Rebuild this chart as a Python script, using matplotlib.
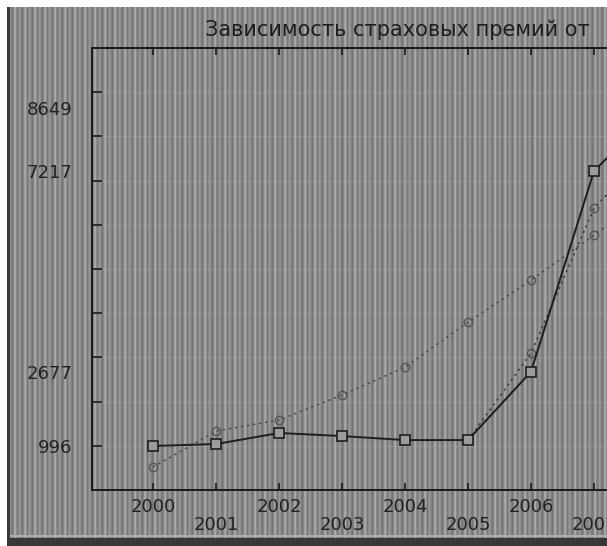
import numpy as np
import matplotlib
matplotlib.use('Agg')
import matplotlib.pyplot as plt

years = [2000, 2001, 2002, 2003, 2004, 2005, 2006, 2007, 2008]
premii = [996, 1040, 1290, 1220, 1130, 1130, 2677, 7217, 8649]
trend_lin = [520, 1333, 1582, 2147, 2780, 3797, 4746, 5763, 6800]
years_exp = [2005, 2006, 2007, 2008]
trend_exp = [1130, 3096, 6373, 7900]
ytick_vals = [996, 2677, 7217, 8649]
title = 'Зависимость страховых премий от'

W, H = 607, 546
fig = plt.figure(figsize=(W / 100, H / 100), dpi=100)

# striped grey background with the window borders
stripe = np.array([0.56, 0.50, 0.46, 0.52, 0.63, 0.67, 0.55, 0.48, 0.53, 0.60])
cols = np.resize(stripe, W)
bg = np.tile(cols, (H, 1))
bg[:7, :] = 1.0
bg[:, :7] = 1.0
bg[7:, 7:10] = 0.22
bg[535:537, 10:] = 0.68
bg[538:, 7:] = 0.22 + 0.05 * (cols[None, 7:] - 0.55)
fig.figimage(np.dstack([bg, bg, bg]), xo=0, yo=0, origin='upper', zorder=-1)

ax = fig.add_axes([92 / W, 56 / H, 628 / W, 442 / H])
ax.set_facecolor('none')
ax.set_xlim(1999.03, 2009)
ax.set_ylim(0, 10000)

# faint grid
for v in range(1000, 10000, 1000):
    ax.axhline(v, color='#a8a8a8', lw=0.8, alpha=0.35, zorder=1)
for yr in years:
    ax.axvline(yr, color='#5a5a5a', lw=0.8, alpha=0.2, zorder=1)

ax.plot(years, trend_lin, ls=(0, (1.5, 2.5)), color='#4a4a4a', lw=1.1,
        marker='o', ms=6, mfc='none', mec='#555555', mew=1.0, zorder=3)
ax.plot(years_exp, trend_exp, ls=(0, (1.5, 2.5)), color='#3a3a3a', lw=1.1,
        marker='o', ms=6, mfc='none', mec='#555555', mew=1.0, zorder=3)
ax.plot(years, premii, color='#1e1e1e', lw=1.4,
        marker='s', ms=7, mfc='#9c9c9c', mec='#1e1e1e', mew=1.2, zorder=4)

for s in ax.spines.values():
    s.set_color('#1a1a1a')
    s.set_linewidth(1.4)

ax.set_yticks(ytick_vals)
ax.set_yticklabels([str(v) for v in ytick_vals])
ax.set_yticks(range(1000, 10000, 1000), minor=True)
ax.tick_params(axis='y', which='major', length=0, pad=14, labelsize=13,
               labelcolor='#222222')
ax.tick_params(axis='y', which='minor', direction='in', length=7, width=1.2,
               color='#1a1a1a')

ax.set_xticks(years)
ax.set_xticklabels([str(y) if y % 2 == 0 else '\n' + str(y) for y in years],
                   linespacing=0.95)
ax.tick_params(axis='x', direction='in', length=5, width=1.2, color='#1a1a1a',
               top=True, pad=6, labelsize=13, labelcolor='#222222')

fig.text(205 / W, 1 - 30 / H, title, ha='left', va='center',
         fontsize=15, color='#1e1e1e')

fig.savefig('out.png', dpi=100)
